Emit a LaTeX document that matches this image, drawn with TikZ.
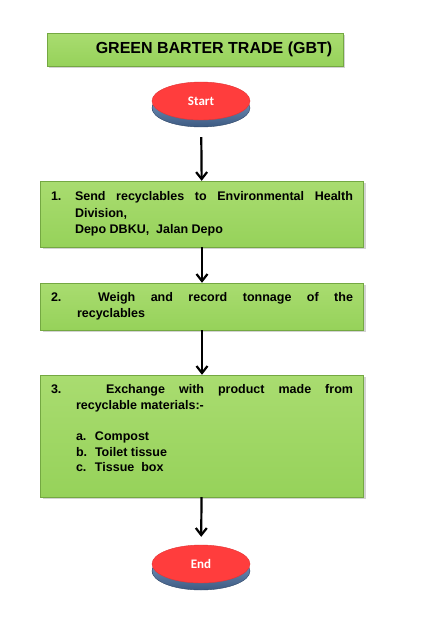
\documentclass[tikz,border=0pt]{standalone}
\usepackage{fontspec}
\setmainfont{Liberation Sans}
\newfontfamily\btnfont{Carlito}
\usetikzlibrary{shapes.geometric, positioning, shadows, arrows.meta}

\definecolor{boxgreen}{HTML}{96D25A}
\definecolor{boxgreenlight}{HTML}{A9DC70}
\definecolor{boxedge}{HTML}{74A842}
\definecolor{btnred}{HTML}{FF3D3D}
\definecolor{btnedge}{HTML}{E23434}
\definecolor{diskdark}{HTML}{3C5A82}
\definecolor{disklight}{HTML}{86A4CC}

\begin{document}
\begin{tikzpicture}[
    x=1pt, y=-1pt,
    % Define node styles
    titlebox/.style={
        rectangle,
        draw=boxedge,
        top color=boxgreenlight,
        bottom color=boxgreen,
        drop shadow={shadow xshift=2pt, shadow yshift=-2pt, opacity=0.35},
        minimum width=296pt,
        minimum height=33pt,
        inner sep=0pt,
        font=\fontsize{16}{18}\selectfont\bfseries
    },
    stepbox/.style={
        rectangle,
        draw=boxedge,
        top color=boxgreenlight,
        bottom color=boxgreen,
        drop shadow={shadow xshift=2pt, shadow yshift=-2pt, opacity=0.35},
        text width=302pt,
        minimum width=323pt,
        inner xsep=10.5pt,
        inner ysep=0pt,
        align=justify,
        font=\fontsize{12.5}{16.3}\selectfont\bfseries
    },
    button/.style={
        ellipse,
        draw=btnedge,
        fill=btnred,
        minimum width=98pt,
        minimum height=38pt,
        inner sep=0pt,
        text=white,
        font=\btnfont\fontsize{13}{15}\selectfont\bfseries
    },
    disk/.style={
        ellipse,
        draw=diskdark!80!black,
        top color=disklight,
        bottom color=diskdark,
        minimum width=98pt,
        minimum height=38pt,
        inner sep=0pt
    },
    flow/.style={
        draw,
        line width=2.2pt,
        -{Straight Barb[length=7pt, width=11pt, line width=2.2pt]}
    }
]
    \useasboundingbox (0,0) rectangle (432,624);

    % Title
    \node[titlebox] (title) at (195,49.5) {\hspace*{38pt}GREEN BARTER TRADE (GBT)};

    % Start button
    \node[disk] (startbase) at (201,108) {};
    \node[button] (start) at (201,101) {Start};

    % Steps
    \node[stepbox, minimum height=66pt] (send) at (202,214) {%
        \hangindent=24pt\hangafter=1
        \makebox[24pt][l]{1.}Send recyclables to Environmental Health\linebreak
        Division,\\
        Depo DBKU,\ \ Jalan Depo\par};
    \node[stepbox, minimum height=47pt] (weigh) at (202,306.5) {%
        \hangindent=26pt\hangafter=1
        \makebox[47pt][l]{2.}Weigh and record tonnage of the\linebreak
        recyclables\par};
    \node[stepbox, minimum height=122pt] (exchange) at (202,436) {%
        \fontsize{12.5}{15.6}\selectfont
        \hangindent=25pt\hangafter=1
        \makebox[55pt][l]{3.}Exchange with product made from\linebreak
        recyclable materials:-\\[15.6pt]
        \makebox[19pt][l]{a.}Compost\\
        \makebox[19pt][l]{b.}Toilet tissue\\
        \makebox[19pt][l]{c.}Tissue\ \ box\par
        \vbox to 12pt{}};

    % End button
    \node[disk] (endbase) at (201,571) {};
    \node[button] (end) at (201,564) {End};

    % Connectors
    \draw[flow, shorten <=10pt] (startbase) -- (send);
    \draw[flow] (send) -- (weigh);
    \draw[flow] (weigh) -- (exchange);
    \draw[flow, shorten >=8pt] (exchange) -- (end);
\end{tikzpicture}
\end{document}
